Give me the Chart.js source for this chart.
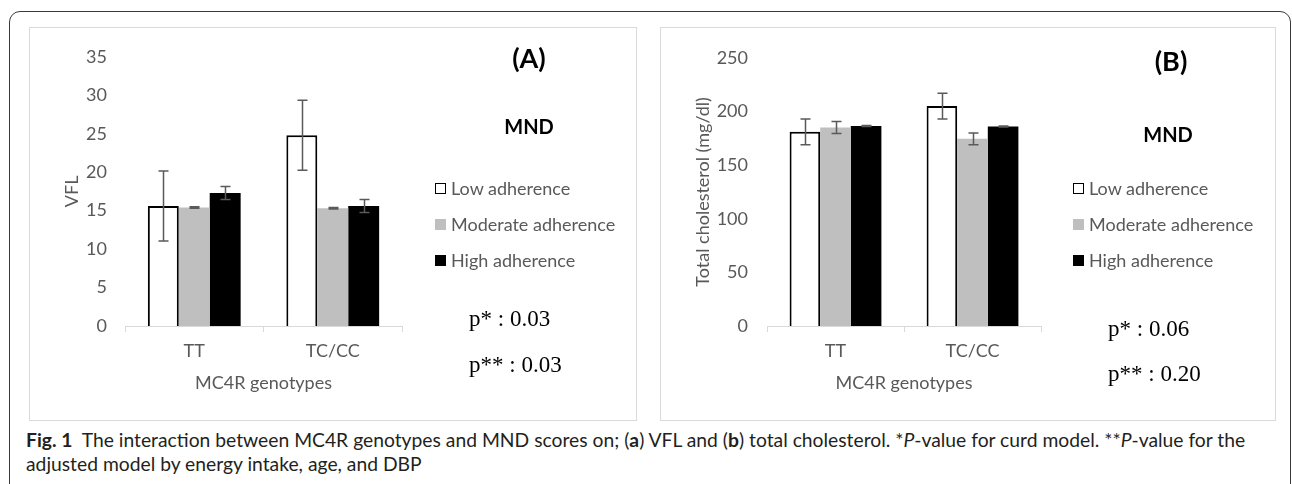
<!DOCTYPE html>
<html>
<head>
<meta charset="utf-8">
<script src="https://cdn.jsdelivr.net/npm/chart.js@4/dist/chart.umd.min.js"></script>
<style>
  body { margin: 0; width: 1292px; height: 484px; overflow: hidden; background: #fff; font-family: Lato, sans-serif; position: relative; }
  .frame { position: absolute; left: 9px; top: 11px; width: 1282px; height: 520px; border: 1.3px solid #3a3a3a; border-radius: 11px; box-sizing: border-box; }
  .panel { position: absolute; top: 27px; height: 394px; border: 1px solid #d9d9d9; box-sizing: border-box; }
  .panel canvas { position: absolute; left: 0; top: 0; }
  .abs { position: absolute; white-space: nowrap; }
  .tag { font-weight: bold; font-size: 27px; transform: translate(-50%, -50%); color: #000; }
  .mnd { font-weight: bold; font-size: 20px; transform: translate(-50%, -50%); color: #000; }
  .pval { font-family: "Liberation Serif", serif; font-size: 23px; line-height: 1; transform: translateY(-50%); color: #000; }
  .legend-row { position: absolute; display: flex; align-items: center; font-size: 18px; color: #595959; transform: translateY(-50%); white-space: nowrap; }
  .legend-row span.box { display: inline-block; width: 11px; height: 11px; box-sizing: border-box; margin-right: 5px; }
  .caption { position: absolute; left: 26px; top: 428px; font-size: 19.3px; line-height: 24px; color: #231f20; white-space: nowrap; }
</style>
</head>
<body>
<div class="frame"></div>

<div class="panel" style="left:29px; width:608px;"><canvas id="chartA" width="606" height="392"></canvas></div>
<div class="panel" style="left:660px; width:616px;"><canvas id="chartB" width="614" height="392"></canvas></div>

<div class="abs tag" style="left:529px; top:57px;">(A)</div>
<div class="abs mnd" style="left:529px; top:126px;">MND</div>
<div id="legendA"></div>
<div class="abs pval" style="left:469px; top:318px;">p* : 0.03</div>
<div class="abs pval" style="left:469px; top:364px;">p** : 0.03</div>

<div class="abs tag" style="left:1171px; top:60px;">(B)</div>
<div class="abs mnd" style="left:1168px; top:134px;">MND</div>
<div id="legendB"></div>
<div class="abs pval" style="left:1108px; top:328px;">p* : 0.06</div>
<div class="abs pval" style="left:1108px; top:373px;">p** : 0.20</div>

<div class="caption"><b>Fig. 1</b>&nbsp; The interaction between MC4R genotypes and MND scores on; (<b>a</b>) VFL and (<b>b</b>) total cholesterol. *<i>P</i>-value for curd model. **<i>P</i>-value for the<br>adjusted model by energy intake, age, and DBP</div>

<script>
// data
const categories = ['TT', 'TC/CC'];
const seriesLabels = ['Low adherence', 'Moderate adherence', 'High adherence'];

const vflLow = [15.6, 24.8];
const vflModerate = [15.4, 15.3];
const vflHigh = [17.3, 15.6];
const vflLowErr = [4.55, 4.55];
const vflModerateErr = [0.1, 0.1];
const vflHighErr = [0.85, 0.85];

const cholLow = [181, 205];
const cholModerate = [185, 174.5];
const cholHigh = [186.5, 186];
const cholLowErr = [12, 12];
const cholModerateErr = [5.6, 5.5];
const cholHighErr = [0.5, 0.5];

const vflTicks = { min: 0, max: 35, step: 5 };
const cholTicks = { min: 0, max: 250, step: 50 };

const grey = '#595959';
const tickFont = { family: 'Lato', size: 18 };

// draws the +/- error whiskers on top of each bar
const errorBars = {
    id: 'errorBars',
    afterDatasetsDraw(chart) {
        let ctx = chart.ctx;
        let yScale = chart.scales.y;
        ctx.save();
        ctx.strokeStyle = '#5a5a5a';
        ctx.lineWidth = 1.5;
        chart.data.datasets.forEach((ds, i) => {
            chart.getDatasetMeta(i).data.forEach((bar, j) => {
                let v = ds.data[j];
                let e = ds.errors[j];
                let top = yScale.getPixelForValue(v + e);
                let bot = yScale.getPixelForValue(v - e);
                let x = Math.round(bar.x) + 0.5;
                ctx.beginPath();
                ctx.moveTo(x, top);
                ctx.lineTo(x, bot);
                ctx.moveTo(x - 5, top);
                ctx.lineTo(x + 5, top);
                ctx.moveTo(x - 5, bot);
                ctx.lineTo(x + 5, bot);
                ctx.stroke();
            });
        });
        ctx.restore();
    }
};

function makeDatasets(low, mod, high, lowErr, modErr, highErr) {
    return [
        { label: seriesLabels[0], data: low, errors: lowErr, backgroundColor: '#ffffff', borderColor: '#000000', borderWidth: 2 },
        { label: seriesLabels[1], data: mod, errors: modErr, backgroundColor: '#bfbfbf', borderWidth: 0 },
        { label: seriesLabels[2], data: high, errors: highErr, backgroundColor: '#000000', borderWidth: 0 },
    ];
}

function makeChart(id, datasets, yTitle, ticks, yWidth, labelPad, padTop) {
    let ctx = document.getElementById(id).getContext('2d');
    return new Chart(ctx, {
        type: 'bar',
        data: { labels: categories, datasets: datasets },
        options: {
            responsive: false,
            animation: false,
            devicePixelRatio: 1,
            layout: { padding: { top: padTop, right: 234, left: 0, bottom: 0 } },
            datasets: { bar: { barPercentage: 1, categoryPercentage: 0.67 } },
            plugins: { legend: { display: false }, tooltip: { enabled: false } },
            scales: {
                x: {
                    offset: true,
                    grid: { display: true, drawOnChartArea: false, drawTicks: true, tickLength: 6, offset: true, color: '#d9d9d9' },
                    border: { display: true, color: '#d9d9d9', width: 1 },
                    ticks: { color: grey, font: tickFont, padding: 8, maxRotation: 0 },
                    title: { display: true, text: 'MC4R genotypes', color: grey, font: tickFont, padding: { top: 11, bottom: 26 } },
                    afterFit: s => { s.height = 94; }
                },
                y: {
                    min: ticks.min,
                    max: ticks.max,
                    ticks: { stepSize: ticks.step, color: grey, font: tickFont, padding: labelPad },
                    grid: { display: false, drawTicks: false },
                    border: { display: false },
                    title: { display: true, text: yTitle, color: grey, font: tickFont, padding: { top: 31, bottom: 0 } },
                    afterFit: s => { s.width = yWidth; }
                }
            }
        },
        plugins: [errorBars]
    });
}

function buildLegend(el, chart, left, rows) {
    chart.data.datasets.forEach((ds, i) => {
        let row = document.createElement('div');
        row.className = 'legend-row';
        row.style.left = left + 'px';
        row.style.top = rows[i] + 'px';
        let box = document.createElement('span');
        box.className = 'box';
        box.style.background = ds.backgroundColor;
        if (ds.borderWidth) box.style.border = '1.5px solid ' + ds.borderColor;
        row.appendChild(box);
        row.appendChild(document.createTextNode(ds.label));
        el.appendChild(row);
    });
}

let chartA = makeChart('chartA',
    makeDatasets(vflLow, vflModerate, vflHigh, vflLowErr, vflModerateErr, vflHighErr),
    'VFL', vflTicks, 95, 18, 22);
let chartB = makeChart('chartB',
    makeDatasets(cholLow, cholModerate, cholHigh, cholLowErr, cholModerateErr, cholHighErr),
    'Total cholesterol (mg/dl)', cholTicks, 106, 19, 23);

buildLegend(document.getElementById('legendA'), chartA, 435, [188, 224, 260]);
buildLegend(document.getElementById('legendB'), chartB, 1073, [188, 224, 260]);
</script>
</body>
</html>
